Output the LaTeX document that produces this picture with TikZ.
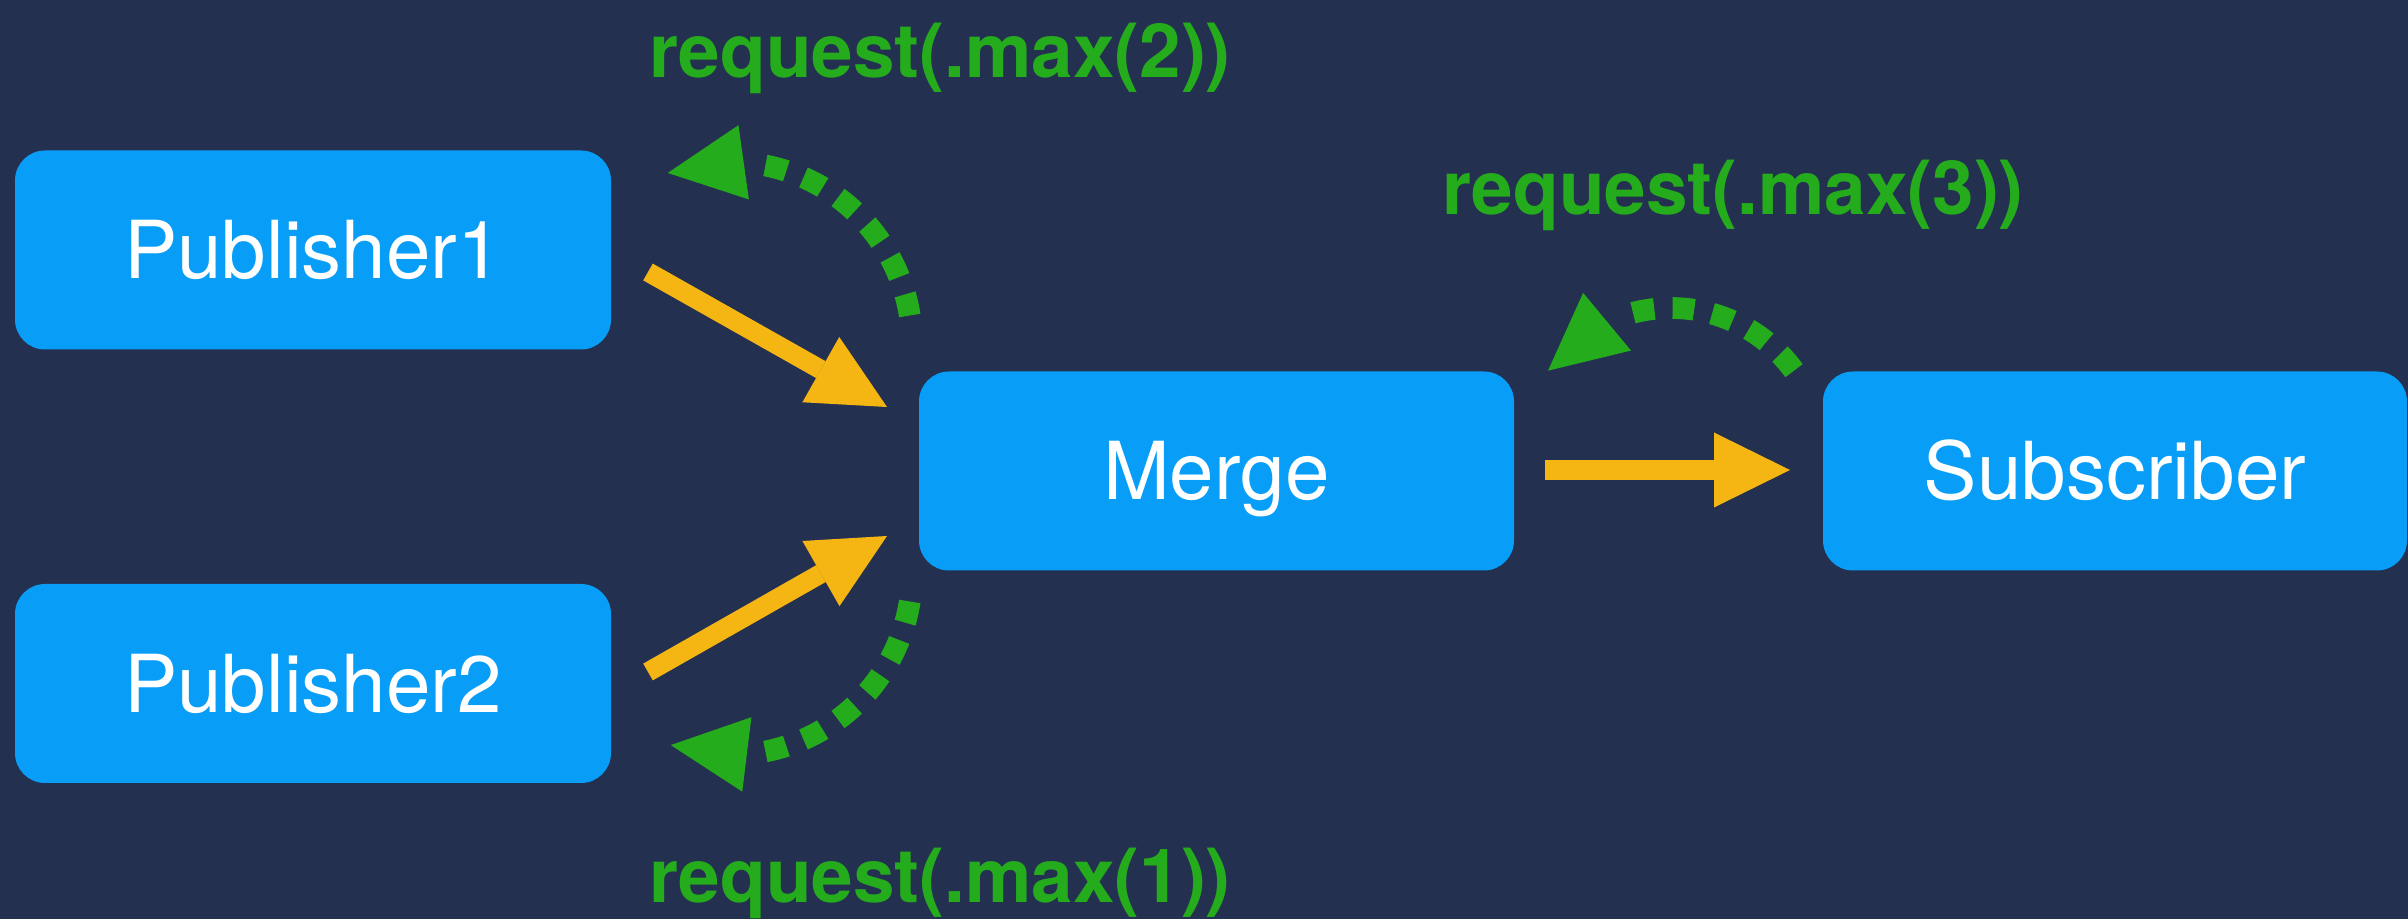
\documentclass[tikz,border=0pt]{standalone}
\usepackage{fontspec}
\setmainfont{TeX Gyre Heros}
\usetikzlibrary{arrows.meta,bending,calc}
\definecolor{bg}{RGB}{36,48,80}
\definecolor{boxblue}{RGB}{8,158,248}
\definecolor{reqgreen}{RGB}{36,172,28}
\definecolor{flowamber}{RGB}{245,182,20}
\begin{document}
\begin{tikzpicture}[x=0.3pt,y=-0.3pt,
  box/.style={fill=boxblue, rounded corners=9pt, inner sep=0pt,
    minimum height=59.7pt, text=white,
    font=\fontsize{24}{28}\selectfont, text height=17.2pt, text depth=0pt},
  reqlabel/.style={text=reqgreen, inner sep=0pt, anchor=base,
    font=\bfseries\fontsize{22.4}{26}\selectfont},
  flow/.style={draw=flowamber, line width=5.8pt,
    -{Triangle[length=22.8pt,width=22.5pt,line width=0pt]}},
  req/.style={draw=reqgreen, line width=6.5pt,
    -{Triangle[flex,length=23pt,width=22.5pt,line width=0pt]}},
  sixdots/.style={dash pattern=on 6.5pt off 5.5pt on 6.5pt off 5.5pt
    on 6.5pt off 5.5pt on 6.5pt off 5.5pt on 6.5pt off 5.5pt on 6.5pt off 200pt},
  fivedots/.style={dash pattern=on 6.5pt off 5.5pt on 6.5pt off 5.5pt
    on 6.5pt off 5.5pt on 6.5pt off 5.5pt on 6.5pt off 200pt}]

% canvas
\useasboundingbox[fill=bg] (0,0) rectangle (2408,919);

% stages
\node[box, minimum width=178.8pt] (pub1)  at (313,250)    {Publisher1};
\node[box, minimum width=178.8pt] (pub2)  at (313,683.5)  {Publisher2};
\node[box, minimum width=178.5pt] (merge) at (1216.5,471) {Merge};
\node[box, minimum width=175.2pt] (sub)   at (2115,471)   {Subscriber};

% demand labels
\node[reqlabel] (req2) at (940,78)   {request(.max(2))};
\node[reqlabel] (req3) at (1733,215) {request(.max(3))};
\node[reqlabel] (req1) at (940,903)  {request(.max(1))};

% value flow
\coordinate (f1s) at (648,272);  \coordinate (f1e) at (887,407);
\coordinate (f2s) at (648,672);  \coordinate (f2e) at (887,536);
\coordinate (f3s) at (1545,470); \coordinate (f3e) at (1790,470);
\draw[flow] (f1s) -- (f1e);
\draw[flow] (f2s) -- (f2e);
\draw[flow] (f3s) -- (f3e);

% demand flowing upstream
\coordinate (r1c) at (730,344);
\coordinate (r2c) at (730,573);
\coordinate (r3c) at (1671,460);
\coordinate (r1s) at ($(r1c)+(-9:182)$);
\coordinate (r2s) at ($(r2c)+(9:182)$);
\coordinate (r3s) at ($(r3c)+(-36:152)$);
\draw[req, sixdots]  (r1s) arc[start angle=-9, end angle=-110, radius=182];
\draw[req, sixdots]  (r2s) arc[start angle=9,  end angle=109,  radius=182];
\draw[req, fivedots] (r3s) arc[start angle=-36, end angle=-144, radius=152];
\end{tikzpicture}
\end{document}
